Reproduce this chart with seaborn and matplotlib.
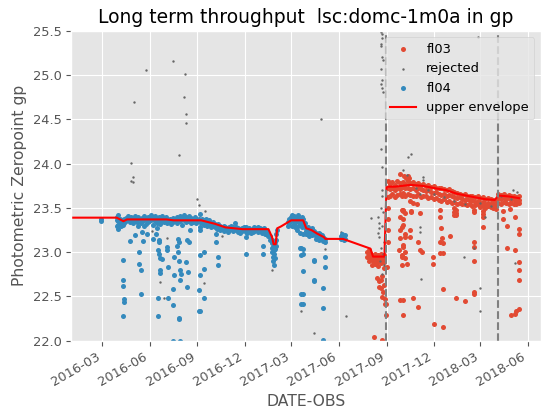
import numpy as np
import pandas as pd
import matplotlib
matplotlib.use('Agg')
import matplotlib.pyplot as plt
import matplotlib.dates as mdates
import seaborn as sns

# days are counted from 2016-01-01
BASE = '2016-01-01'

### upper envelope
env_day = [0, 88, 101, 108, 184, 198, 251, 278, 298, 331, 364, 381, 388, 391, 395, 398, 405,
           425, 448, 454, 464, 475, 488, 491, 525, 578, 583, 605, 609, 625, 655, 678, 705,
           725, 745, 771, 798, 818, 825, 845, 865]
env_zp = [23.39, 23.39, 23.35, 23.37, 23.37, 23.36, 23.36, 23.32, 23.28, 23.26, 23.26, 23.26,
          23.17, 23.09, 23.09, 23.27, 23.29, 23.36, 23.36, 23.27, 23.25, 23.21, 23.17, 23.15,
          23.15, 23.04, 22.95, 22.95, 23.74, 23.74, 23.76, 23.75, 23.72, 23.70, 23.66, 23.63,
          23.60, 23.59, 23.64, 23.63, 23.61]

### fl04 (blue)
fl04_day = [58, 58,
    88, 88, 88, 91, 91, 94, 94, 97, 97, 100, 100, 103, 103, 106, 106, 110, 110, 113, 113,
    116, 116, 120, 120, 123, 123, 127, 127, 130, 130, 134, 134, 137, 137, 141, 141, 144, 144,
    148, 148, 151, 151, 155, 155, 158, 158, 162, 162, 165, 165, 169, 169, 172, 172, 176, 176,
    179, 179, 183, 183, 186, 186, 190, 190, 193, 193, 197, 197, 200, 200, 204, 204, 207, 207,
    211, 211, 214, 214, 218, 218, 221, 221, 225, 225, 228, 228, 232, 232, 235, 235, 239, 239,
    242, 242, 246, 246, 249, 249,
    253, 253, 256, 256, 260, 260, 263, 263, 267, 267, 270, 270, 274, 274, 277, 277, 281, 281,
    284, 284, 288, 288, 291, 291, 295, 295, 298, 298, 302, 302, 305, 305, 309, 309, 312, 312,
    316, 316, 319, 319, 323, 323, 326, 326, 330, 330, 333, 333, 337, 337, 340, 340, 344, 344,
    347, 347, 351, 351, 354, 354, 358, 358, 361, 361, 365, 365, 368, 368, 372, 372, 375, 375,
    378, 378, 381, 381, 384, 384, 387, 387, 387, 387, 389, 389, 389, 389, 391, 391, 391, 391,
    393, 393, 393, 395, 395, 395, 398,
    418, 418, 421, 421, 424, 424, 427, 427, 427, 430, 430, 430, 433, 433, 433, 436, 436, 436,
    439, 439, 439, 442, 442, 442, 445, 445, 445, 448, 448, 448, 451, 451, 454, 454, 454,
    457, 457, 460, 460, 460, 463, 463, 466, 466, 466, 469, 469, 472, 472, 472, 475, 475,
    478, 478, 478, 481, 481, 484, 484, 487, 487, 490, 490,
    522, 522, 524, 524, 526, 526, 528, 528,
    # scattered
    91, 91, 100, 100, 100, 102, 102, 100, 113, 123, 132, 132, 134, 134, 137, 138, 140, 147,
    159, 164, 166, 169, 170, 168, 170, 172, 176, 172, 172, 168, 168, 187, 187, 185, 185,
    198, 198, 197, 197, 204, 206, 207, 209, 208, 211, 212, 211, 209, 209, 222, 225, 224,
    224, 227, 229, 197, 211, 247, 247,
    249, 249, 249, 256, 256, 249, 256, 249, 280, 280, 283, 283, 337, 337, 371, 371,
    442, 448, 448, 447, 469, 469, 447, 448, 444, 444, 469, 490, 490, 469, 444, 444, 487,
    486, 486]
fl04_zp = [23.37, 23.35,
    23.40, 23.36, 23.30, 23.42, 23.35, 23.38, 23.33, 23.36, 23.30, 23.34, 23.31, 23.37, 23.33,
    23.39, 23.35, 23.41, 23.36, 23.38, 23.34, 23.40, 23.36, 23.37, 23.33, 23.41, 23.35, 23.38,
    23.34, 23.40, 23.30, 23.36, 23.33, 23.39, 23.35, 23.41, 23.36, 23.37, 23.32, 23.40, 23.34,
    23.38, 23.35, 23.42, 23.36, 23.39, 23.31, 23.41, 23.35, 23.38, 23.33, 23.40, 23.36, 23.37,
    23.32, 23.41, 23.35, 23.39, 23.34, 23.40, 23.36, 23.37, 23.33, 23.38, 23.35, 23.36, 23.32,
    23.39, 23.34, 23.37, 23.35, 23.40, 23.33, 23.38, 23.36, 23.41, 23.35, 23.39, 23.31, 23.42,
    23.36, 23.40, 23.34, 23.38, 23.35, 23.41, 23.37, 23.39, 23.33, 23.37, 23.34, 23.40, 23.36,
    23.38, 23.33, 23.37, 23.35, 23.43, 23.34,
    23.38, 23.33, 23.36, 23.31, 23.37, 23.32, 23.35, 23.30, 23.36, 23.31, 23.33, 23.29, 23.34,
    23.30, 23.32, 23.28, 23.31, 23.26, 23.32, 23.27, 23.30, 23.25, 23.29, 23.26, 23.30, 23.24,
    23.28, 23.25, 23.27, 23.23, 23.29, 23.25, 23.30, 23.26, 23.28, 23.24, 23.33, 23.27, 23.29,
    23.25, 23.27, 23.23, 23.26, 23.22, 23.27, 23.24, 23.29, 23.25, 23.28, 23.23, 23.26, 23.22,
    23.27, 23.24, 23.25, 23.22, 23.26, 23.23, 23.28, 23.24, 23.27, 23.25, 23.29, 23.23, 23.27,
    23.24, 23.26, 23.22, 23.27, 23.24, 23.25, 23.21, 23.24, 23.20, 23.22, 23.18, 23.18, 23.14,
    23.14, 23.10, 23.05, 23.00, 23.10, 23.06, 22.95, 22.90, 23.08, 23.02, 22.98, 22.86,
    23.12, 23.04, 22.93, 23.20, 23.14, 23.07, 23.25,
    23.34, 23.30, 23.37, 23.33, 23.40, 23.35, 23.42, 23.36, 23.30, 23.41, 23.37, 23.32, 23.39,
    23.34, 23.28, 23.40, 23.35, 23.25, 23.42, 23.36, 23.30, 23.38, 23.33, 23.22, 23.40, 23.34,
    23.28, 23.37, 23.31, 23.20, 23.33, 23.28, 23.27, 23.24, 23.20, 23.28, 23.23, 23.26, 23.22,
    23.18, 23.25, 23.21, 23.27, 23.23, 23.19, 23.24, 23.20, 23.22, 23.18, 23.15, 23.21, 23.17,
    23.22, 23.18, 23.14, 23.20, 23.16, 23.19, 23.15, 23.17, 23.13, 23.15, 23.12,
    23.18, 23.15, 23.20, 23.16, 23.17, 23.14, 23.19, 23.15,
    # scattered
    23.31, 23.26, 22.91, 22.68, 22.62, 22.47, 22.44, 22.28, 23.13, 23.19, 23.00, 22.87, 22.80,
    22.53, 23.23, 23.13, 23.30, 23.21, 23.15, 23.21, 23.27, 23.14, 23.12, 23.02, 22.98, 22.93,
    22.92, 22.80, 22.76, 22.48, 22.28, 22.48, 22.83, 23.06, 23.02, 22.95, 22.74, 22.58, 22.40,
    23.07, 23.15, 23.00, 22.90, 23.12, 22.80, 22.75, 22.68, 22.26, 22.24, 22.89, 22.78, 22.61,
    23.14, 23.11, 23.25, 22.00, 22.00, 22.57, 22.34,
    23.25, 23.29, 22.97, 23.00, 22.81, 22.74, 22.48, 22.34, 23.20, 23.12, 22.94, 22.85, 23.17,
    22.98, 23.07, 22.98,
    23.05, 23.04, 22.98, 22.79, 22.90, 22.67, 22.53, 22.42, 23.05, 22.97, 22.91, 22.95, 22.83,
    22.68, 22.53, 22.41, 22.59, 22.37, 22.01]

### fl03 (red)
fl03_day = [
    572, 572, 575, 575, 575, 578, 578, 581, 581, 581, 584, 584, 587, 587, 587, 590, 590,
    593, 593, 593, 596, 596, 599, 599, 599, 602, 602, 605, 605, 605,
    611, 611, 611, 611, 611, 611, 611,
    615, 615, 615, 620, 620, 620, 625, 625, 625, 630, 630, 630, 635, 635, 635, 640, 640, 640,
    645, 645, 645, 650, 650, 650, 655, 655, 655, 660, 660, 660, 665, 665, 665, 670, 670, 670,
    675, 675, 675, 680, 680, 680, 685, 685, 685, 690, 690, 690, 695, 695, 695, 700, 700, 700,
    705, 705, 705, 710, 710, 710, 715, 715, 715, 720, 720, 720, 725, 725, 725, 730, 730, 730,
    735, 735, 735, 740, 740, 740, 745, 745, 745, 750, 750, 750, 755, 755, 755, 760, 760, 760,
    765, 765, 765, 770, 770, 770, 775, 775, 775, 780, 780, 780, 785, 785, 785, 790, 790, 790,
    795, 795, 795, 800, 800, 800, 805, 805, 805, 810, 810, 810, 815, 815, 815, 820, 820, 820,
    825, 825, 825, 830, 830, 830, 835, 835, 835, 840, 840, 840, 845, 845, 845, 850, 850, 850,
    855, 855, 855, 860, 860, 860, 865, 865, 865,
    740, 740, 740, 743, 743, 778, 778, 796, 796, 796, 655, 660, 668,
    636, 642, 646, 651, 653,
    # scattered
    610, 594, 594, 601, 591, 601, 608, 608, 585, 601, 607, 607, 603, 605, 598, 598,
    638, 641, 635, 641, 638, 644, 635, 640, 638, 648, 635, 634,
    638, 641, 644, 641, 635, 644, 641, 644, 638, 644, 638,
    657, 657, 654, 654, 673, 670, 673, 677, 660, 641, 641, 670,
    699, 699, 712, 712, 715, 717, 712, 718, 712, 718, 718, 700, 718,
    731, 741, 743, 743, 760, 777, 777, 777, 777, 777, 795,
    834, 834, 842, 847, 858, 842, 858, 865, 865, 865, 865, 865, 860, 858, 849, 865]
fl03_zp = [
    23.00, 22.95, 23.03, 22.97, 22.90, 22.99, 22.93, 22.97, 22.91, 22.86, 22.96, 22.90, 22.98,
    22.93, 22.87, 22.95, 22.89, 22.97, 22.92, 22.84, 22.96, 22.90, 22.98, 22.93, 22.88, 22.95,
    22.91, 22.97, 22.89, 22.82,
    23.80, 23.72, 23.62, 23.50, 23.38, 23.25, 23.12,
    23.77, 23.71, 23.64, 23.79, 23.73, 23.66, 23.76, 23.70, 23.62, 23.80, 23.72, 23.65, 23.78,
    23.71, 23.66, 23.79, 23.74, 23.67, 23.77, 23.72, 23.64, 23.80, 23.73, 23.66, 23.78, 23.71,
    23.65, 23.79, 23.72, 23.63, 23.77, 23.70, 23.64, 23.78, 23.73, 23.66, 23.76, 23.71, 23.62,
    23.77, 23.70, 23.64, 23.75, 23.69, 23.63, 23.76, 23.70, 23.61, 23.74, 23.68, 23.62, 23.75,
    23.67, 23.60, 23.73, 23.68, 23.61, 23.72, 23.66, 23.59, 23.73, 23.65, 23.58, 23.71, 23.66,
    23.60, 23.70, 23.64, 23.57, 23.71, 23.65, 23.58, 23.69, 23.63, 23.56, 23.68, 23.62, 23.57,
    23.67, 23.61, 23.55, 23.66, 23.62, 23.56, 23.65, 23.60, 23.54, 23.66, 23.59, 23.55, 23.64,
    23.60, 23.53, 23.63, 23.58, 23.54, 23.64, 23.59, 23.52, 23.62, 23.57, 23.53, 23.63, 23.58,
    23.54, 23.61, 23.56, 23.51, 23.62, 23.57, 23.52, 23.60, 23.55, 23.50, 23.61, 23.56, 23.52,
    23.60, 23.55, 23.51, 23.59, 23.54, 23.50, 23.58, 23.53, 23.49, 23.66, 23.61, 23.56, 23.65,
    23.60, 23.55, 23.66, 23.62, 23.57, 23.64, 23.60, 23.56, 23.65, 23.61, 23.55, 23.63, 23.59,
    23.56, 23.64, 23.60, 23.54, 23.62, 23.58, 23.55, 23.63, 23.59, 23.56,
    23.50, 23.45, 23.42, 23.48, 23.44, 23.48, 23.45, 23.47, 23.43, 23.40, 23.58, 23.56, 23.55,
    23.88, 23.86, 23.84, 23.86, 23.84,
    # scattered
    22.83, 22.67, 22.61, 22.73, 22.71, 22.49, 22.41, 22.29, 22.04, 22.01, 22.47, 22.42, 22.55,
    22.63, 22.59, 22.68,
    23.48, 23.46, 23.40, 23.38, 23.29, 23.21, 23.16, 23.08, 22.97, 22.87, 22.46, 23.02,
    23.63, 23.48, 23.44, 23.31, 23.25, 23.17, 23.06, 23.00, 22.95, 22.93, 22.85,
    23.47, 23.45, 23.25, 23.17, 23.44, 23.12, 23.02, 23.00, 22.48, 22.46, 22.29, 22.38,
    22.95, 22.87, 23.48, 23.40, 23.27, 23.16, 23.12, 23.10, 22.99, 22.99, 22.58, 22.19, 22.15,
    23.18, 23.46, 23.42, 22.48, 22.45, 23.11, 23.06, 22.90, 22.55, 22.53, 23.29,
    23.46, 23.38, 23.30, 23.49, 23.40, 23.05, 23.03, 23.26, 23.20, 22.89, 22.80, 22.68, 22.33,
    22.30, 22.29, 22.36]

### rejected (grey)
rej_day = [196, 145, 219, 121, 217, 222, 222, 209, 116, 120, 116, 120, 244, 246,
           598, 600, 601, 599, 598, 600, 602, 599, 601, 598, 600, 602, 599, 601, 600,
           483, 650, 656, 785,
           156, 185, 169, 172, 180, 259, 291, 256, 388, 444, 469, 530,
           580, 592, 594, 595, 592, 594, 522, 522, 490, 490, 600,
           598, 603, 600, 604, 599, 602, 597, 604, 601,
           641, 648, 680, 680, 674, 673, 673, 675, 758, 778, 790, 789, 800, 853, 861, 858,
           700, 720, 740, 760, 790, 810, 830, 850, 690, 665]
rej_zp = [25.16, 25.06, 25.01, 24.70, 24.75, 24.56, 24.46, 24.10, 24.01, 23.85, 23.80, 23.79,
          23.60, 23.53,
          25.49, 25.46, 25.42, 25.35, 25.33, 25.20, 25.17, 25.07, 24.95, 24.90, 24.85, 24.81,
          24.17, 23.96, 23.63,
          24.51, 24.07, 24.11, 25.43,
          23.24, 23.16, 23.00, 22.66, 22.48, 23.46, 23.18, 22.65, 22.80, 22.33, 22.09, 22.28,
          23.39, 23.40, 23.33, 23.27, 23.22, 23.17, 23.23, 23.19, 23.10, 23.04, 23.70,
          23.50, 23.45, 23.30, 23.12, 23.05, 22.98, 22.90, 22.85, 22.75,
          23.93, 23.87, 23.85, 23.82, 23.66, 23.28, 23.23, 22.70, 22.94, 23.05, 22.60, 22.33,
          23.40, 23.70, 23.68, 22.88,
          23.66, 23.62, 23.58, 23.55, 23.56, 23.52, 23.64, 23.60, 23.70, 23.73]

# filter change dates
changes = ['2017-08-31', '2018-04-05']


def to_dates(days):
    return pd.Timestamp(BASE) + pd.to_timedelta(np.array(days), unit='D')


plt.style.use('ggplot')
plt.rcParams['font.size'] = 9.4

fig, ax = plt.subplots(figsize=(5.43, 4.18), dpi=100)

sns.scatterplot(x=to_dates(fl03_day), y=fl03_zp, color='#E24A33', s=13, linewidth=0,
                label='fl03', ax=ax)
sns.scatterplot(x=to_dates(rej_day), y=rej_zp, color='#666666', s=3, linewidth=0,
                label='rejected', ax=ax)
sns.scatterplot(x=to_dates(fl04_day), y=fl04_zp, color='#348ABD', s=13, linewidth=0,
                label='fl04', ax=ax)
sns.lineplot(x=to_dates(env_day), y=env_zp, color='red', lw=1.5, estimator=None,
             sort=False, label='upper envelope', ax=ax)

for c in changes:
    ax.axvline(pd.Timestamp(c), color='gray', ls='--', lw=1.5)

ax.set_ylim(22.0, 25.5)
ax.set_xlim(pd.Timestamp('2016-01-01'), pd.Timestamp('2018-06-26'))
ax.xaxis.set_major_locator(mdates.MonthLocator(bymonth=[3, 6, 9, 12]))
ax.xaxis.set_major_formatter(mdates.DateFormatter('%Y-%m'))
ax.yaxis.set_major_formatter(plt.FormatStrFormatter('%.1f'))

ax.set_xlabel('DATE-OBS')
ax.set_ylabel('Photometric Zeropoint gp')
ax.set_title('Long term throughput  lsc:domc-1m0a in gp')
ax.legend(loc='upper right')

fig.autofmt_xdate()
plt.subplots_adjust(left=0.131, right=0.996, bottom=0.185, top=0.926)
plt.savefig('out.png', dpi=100)
